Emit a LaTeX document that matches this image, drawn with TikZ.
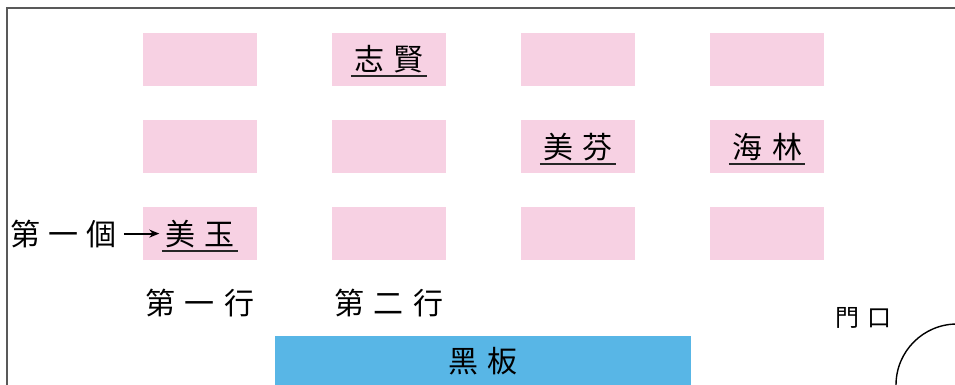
\documentclass[tikz,border=0pt]{standalone}
\usepackage{fontspec}
\usepackage{xcolor}
\newfontfamily\cjk{Noto Sans CJK TC}
\usetikzlibrary{arrows.meta,positioning}

\definecolor{deskpink}{HTML}{F7D1E3}
\definecolor{boardblue}{HTML}{58B6E6}
\newcommand{\kg}{\hspace{10pt}}

\begin{document}
\begin{tikzpicture}[x=1pt,y=-1pt,
    desk/.style={fill=deskpink, minimum width=114pt, minimum height=53pt, inner sep=0pt},
    word/.style={font=\cjk\fontsize{30}{34}\selectfont, inner xsep=3pt, inner ysep=0pt, anchor=base},
    uline/.style={line width=2pt, black!85}]

    \useasboundingbox (0,0) rectangle (955,385);

    % Frame
    \draw[gray!70!black, line width=2pt] (7,385) -- (7,8) -- (955,8);

    % Desks
    \foreach \c/\x in {1/200,2/389,3/578,4/767}
      \foreach \r/\y in {1/59.5,2/146.5,3/233.5}
        \node[desk] (d\c\r) at (\x,\y) {};

    % Names
    \node[word, yshift=-11.5pt] (zhixian) at (d21) {志\kg 賢};
    \node[word, yshift=-11.5pt] (meifen) at (d32) {美\kg 芬};
    \node[word, yshift=-11.5pt] (hailin) at (d42) {海\kg 林};
    \node[word, yshift=-11.5pt] (meiyu) at (d13) {美\kg 玉};
    \foreach \n in {zhixian,meifen,hailin,meiyu}
      \draw[uline] ([yshift=-5.5pt]\n.base west) -- ([yshift=-5.5pt]\n.base east);

    % First seat
    \node[word, left=42pt of meiyu] (first) {第\hspace{8pt}一\hspace{8pt}個};
    \draw[-{Stealth[length=10pt,width=8pt]}, line width=1.8pt, shorten <=4pt, shorten >=2.5pt] (first) -- (meiyu);

    % Rows
    \node[word] (row1) at (200,314.5) {第\kg 一\kg 行};
    \node[word] (row2) at (389,314.5) {第\kg 二\kg 行};

    % Blackboard
    \node[fill=boardblue, minimum width=416pt, minimum height=51pt, inner sep=0pt,
          font=\cjk\fontsize{30}{34}\selectfont] (board) at (483,361.5) {黑\kg 板};

    % Door
    \node[word, font=\cjk\fontsize{24}{28}\selectfont] (door) at (863,326) {門\hspace{8pt}口};
    \draw[line width=1.4pt] (957,385) circle (61);
\end{tikzpicture}
\end{document}
